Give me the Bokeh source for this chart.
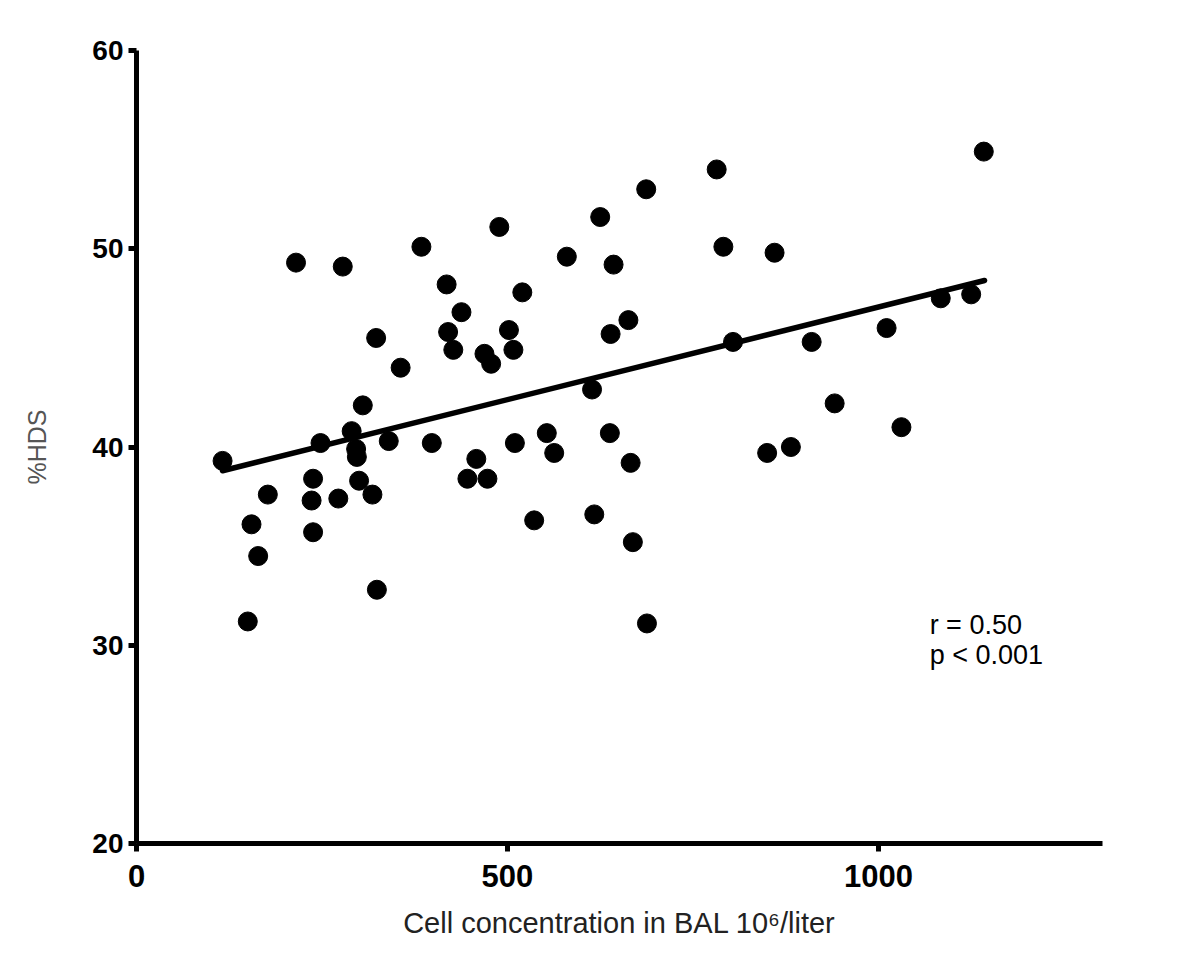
import numpy as np
from bokeh.plotting import figure
from bokeh.models import Range1d, FixedTicker, Label
from bokeh.embed import file_html
from bokeh.resources import INLINE

# Data
cell_conc = [116, 155, 164, 150, 177, 215, 238, 236, 238, 248, 272, 278, 290, 296, 297,
             300, 305, 318, 323, 324, 340, 356, 384, 398, 418, 420, 427, 438, 446, 458,
             473, 469, 478, 489, 502, 508, 510, 520, 536, 553, 563, 580, 617, 614, 625,
             638, 639, 643, 663, 666, 669, 687, 688, 782, 791, 804, 850, 860, 882, 910,
             941, 1011, 1031, 1084, 1125, 1142]
hds = [39.3, 36.1, 34.5, 31.2, 37.6, 49.3, 38.4, 37.3, 35.7, 40.2, 37.4, 49.1, 40.8, 39.9, 39.5,
       38.3, 42.1, 37.6, 45.5, 32.8, 40.3, 44.0, 50.1, 40.2, 48.2, 45.8, 44.9, 46.8, 38.4, 39.4,
       38.4, 44.7, 44.2, 51.1, 45.9, 44.9, 40.2, 47.8, 36.3, 40.7, 39.7, 49.6, 36.6, 42.9, 51.6,
       40.7, 45.7, 49.2, 46.4, 39.2, 35.2, 53.0, 31.1, 54.0, 50.1, 45.3, 39.7, 49.8, 40.0, 45.3,
       42.2, 46.0, 41.0, 47.5, 47.7, 54.9]

# regression line as drawn
fit_x = [116, 1143]
fit_y = [38.8, 48.4]

x_ticks = [0, 500, 1000]
y_ticks = [20, 30, 40, 50, 60]
stat_lines = ["r = 0.50", "p < 0.001"]

FONT = "Liberation Sans"

p = figure(width=1184, height=945, output_backend="svg", toolbar_location=None,
           x_range=Range1d(0, 1302), y_range=Range1d(20, 60),
           min_border_left=136, min_border_right=82, min_border_top=50, min_border_bottom=102)
p.outline_line_color = None
p.grid.visible = False
p.background_fill_color = "white"
p.border_fill_color = "white"

for ax in (p.xaxis[0], p.yaxis[0]):
    ax.axis_line_width = 5
    ax.axis_line_color = "black"
    ax.major_tick_line_width = 5
    ax.major_tick_line_color = "black"
    ax.major_tick_in = 0
    ax.major_tick_out = 8
    ax.minor_tick_line_color = None
    ax.major_label_text_font = FONT
    ax.major_label_text_font_style = "bold"
    ax.major_label_text_color = "black"

p.xaxis[0].ticker = FixedTicker(ticks=x_ticks)
p.yaxis[0].ticker = FixedTicker(ticks=y_ticks)
p.xaxis[0].major_label_text_font_size = "31px"
p.yaxis[0].major_label_text_font_size = "28px"
p.xaxis[0].major_label_standoff = 13
p.yaxis[0].major_label_standoff = 5

p.xaxis[0].axis_label = "Cell concentration in BAL 10\u2076/liter"
p.xaxis[0].axis_label_text_font = FONT
p.xaxis[0].axis_label_text_font_style = "normal"
p.xaxis[0].axis_label_text_font_size = "29px"
p.xaxis[0].axis_label_text_color = "#222222"
p.xaxis[0].axis_label_standoff = 17

p.yaxis[0].axis_label = "%HDS"
p.yaxis[0].axis_label_text_font = FONT
p.yaxis[0].axis_label_text_font_style = "normal"
p.yaxis[0].axis_label_text_font_size = "25px"
p.yaxis[0].axis_label_text_color = "#555555"
p.yaxis[0].axis_label_standoff = 38

p.scatter(cell_conc, hds, size=19, color="black", marker="circle")
p.line(fit_x, fit_y, line_width=5.5, color="black", line_cap="round")

for i, t in enumerate(stat_lines):
    p.add_layout(Label(x=1069, y=31.0 - 1.5 * i, text=t, text_font=FONT, text_font_size="27px",
                       text_color="black", text_baseline="alphabetic"))

open("out.html", "w").write(file_html(p, INLINE))
